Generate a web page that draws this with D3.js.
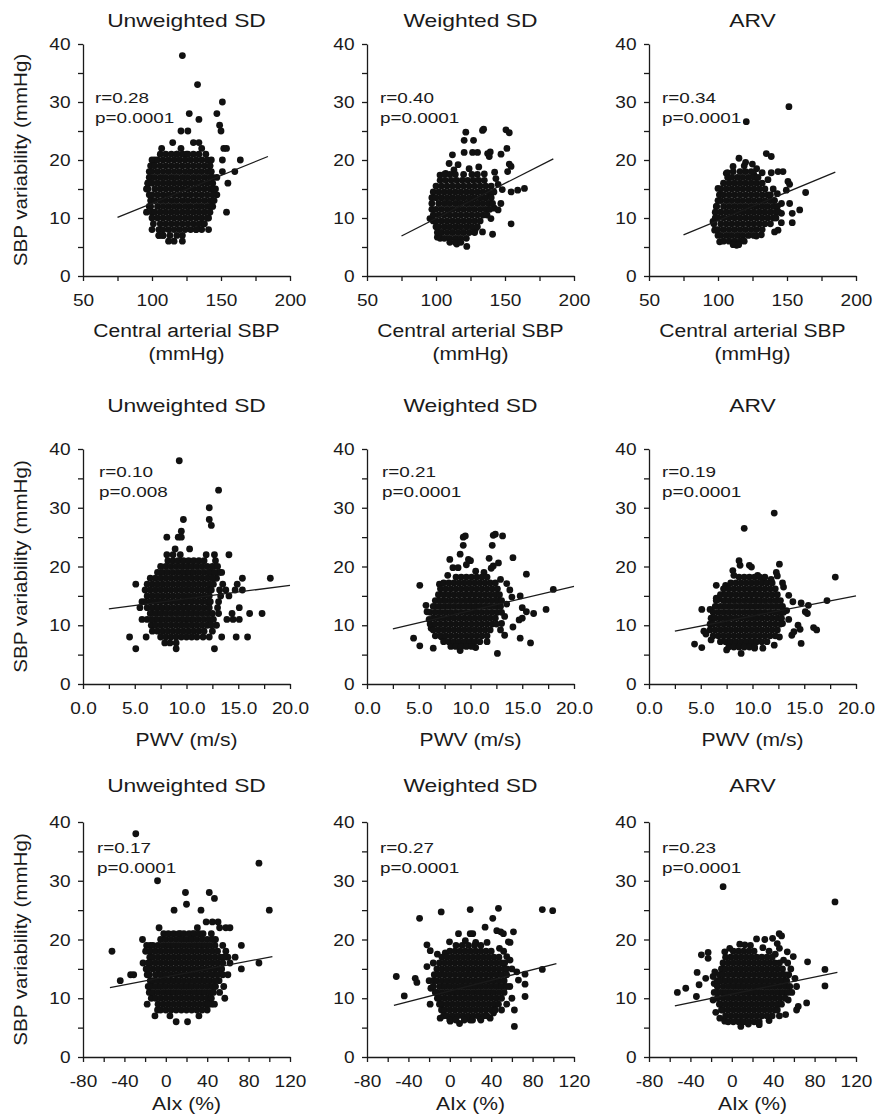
<!DOCTYPE html>
<html>
<head>
<meta charset="utf-8">
<script src="https://cdn.jsdelivr.net/npm/d3@7"></script>
<style>
  body { margin: 0; background: #fff; }
  svg { display: block; }
  text { font-family: "Liberation Sans", Arial, sans-serif; fill: #1a1a1a; }
</style>
</head>
<body>
<svg id="chart" width="875" height="1117"></svg>
<script>
// ---- labels / ticks
const titles = ["Unweighted SD", "Weighted SD", "ARV"];
const yTicks = [0, 5, 10, 15, 20, 25, 30, 35, 40];
const yLabels = ["0", "", "10", "", "20", "", "30", "", "40"];
const csbpTicks = [50, 75, 100, 125, 150, 175, 200];
const csbpLabels = ["50", "", "100", "", "150", "", "200"];
const pwvTicks = [0, 2.5, 5, 7.5, 10, 12.5, 15, 17.5, 20];
const pwvLabels = ["0.0", "", "5.0", "", "10.0", "", "15.0", "", "20.0"];
const aixTicks = [-80, -60, -40, -20, 0, 20, 40, 60, 80, 100, 120];
const aixLabels = ["-80", "", "-40", "", "0", "", "40", "", "80", "", "120"];
const rText = [["r=0.28", "r=0.40", "r=0.34"], ["r=0.10", "r=0.21", "r=0.19"], ["r=0.17", "r=0.27", "r=0.23"]];
const pText = [["p=0.0001", "p=0.0001", "p=0.0001"], ["p=0.008", "p=0.0001", "p=0.0001"], ["p=0.0001", "p=0.0001", "p=0.0001"]];

// ---- regression lines (two end points each)
const uwCsbpFit = [[75, 10.1], [184, 20.6]];
const wCsbpFit = [[75, 6.9], [185, 20.2]];
const arvCsbpFit = [[75, 7.1], [185, 17.9]];
const uwPwvFit = [[2.5, 12.8], [20, 16.8]];
const wPwvFit = [[2.5, 9.4], [20, 16.6]];
const arvPwvFit = [[2.5, 9.0], [20, 15.0]];
const uwAixFit = [[-54, 11.8], [103, 17.1]];
const wAixFit = [[-54, 8.8], [103, 15.9]];
const arvAixFit = [[-55, 8.7], [102, 14.4]];

// ---- points. "Core" = dense cloud, one row per y value: [y, [x, x, ...]]
//      "Out" = scattered points [x, y]
const uwCsbpCore = [
  [21, [106, 110, 114, 118, 122, 126, 130, 134]],
  [20, [100, 104, 108, 112, 116, 120, 124, 128, 132, 136, 140]],
  [19, [99, 102, 106, 110, 114, 118, 122, 126, 130, 134, 138, 142]],
  [18, [98, 100, 104, 108, 112, 116, 120, 124, 128, 132, 136, 140, 143]],
  [17, [98, 102, 106, 110, 114, 118, 122, 126, 130, 134, 138, 142]],
  [16, [97, 100, 104, 108, 112, 116, 120, 124, 128, 132, 136, 140, 144]],
  [15, [97, 102, 106, 110, 114, 118, 122, 126, 130, 134, 138, 142, 145]],
  [14, [98, 100, 104, 108, 112, 116, 120, 124, 128, 132, 136, 140, 144]],
  [13, [99, 102, 106, 110, 114, 118, 122, 126, 130, 134, 138, 142, 145]],
  [12, [99, 104, 108, 112, 116, 120, 124, 128, 132, 136, 140, 143]],
  [11, [100, 102, 106, 110, 114, 118, 122, 126, 130, 134, 138, 142]],
  [10, [100, 104, 108, 112, 116, 120, 124, 128, 132, 136, 140]],
  [9, [101, 106, 110, 114, 118, 122, 126, 130, 134, 138]],
  [8, [100, 105, 108, 112, 116, 120, 124, 128, 132]],
  [7, [105, 108, 113, 118, 122]],
  [6, [112, 116, 122]]
];
const uwCsbpOut = [[122, 38], [133, 33], [151, 30], [127, 28], [134, 27], [147, 28], [149, 26], [150, 25], [121, 25],
  [126, 25], [151, 20], [152, 22], [154, 22], [164, 20], [160, 18], [155, 16], [154, 11], [151, 18], [147, 17], [96, 11],
  [97, 16], [105, 7], [108, 7], [141, 8], [107, 22], [115, 23], [130, 23], [134, 23], [136, 22], [121, 22], [139, 21],
  [102, 20], [142, 19], [144, 17], [146, 15], [147, 14], [144, 12], [141, 10], [136, 8], [96, 15], [98, 12], [118, 21],
  [143, 20], [125, 21], [132, 8], [137, 9]];

const wCsbpCore = [
  [17.5, [106, 110, 114, 120, 126, 130]],
  [16.5, [103, 107, 111, 115, 119, 123, 127, 131, 135]],
  [15.5, [100, 104, 108, 112, 116, 120, 124, 128, 132, 136, 140]],
  [14.5, [98, 102, 106, 110, 114, 118, 122, 126, 130, 134, 138, 142]],
  [13.5, [97, 100, 104, 108, 112, 116, 120, 124, 128, 132, 136, 140]],
  [12.5, [97, 102, 106, 110, 114, 118, 122, 126, 130, 134, 138, 141]],
  [11.5, [97, 100, 104, 108, 112, 116, 120, 124, 128, 132, 136, 139]],
  [10.5, [98, 102, 106, 110, 114, 118, 122, 126, 130, 134, 137]],
  [9.5, [98, 100, 104, 108, 112, 116, 120, 124, 128, 132]],
  [8.5, [100, 102, 106, 110, 114, 118, 122, 126, 130]],
  [7.5, [101, 104, 108, 112, 116, 120, 124, 128]],
  [6.5, [103, 106, 110, 114, 118, 122]],
  [5.8, [110, 114, 118]]
];
const wCsbpOut = [[121.6, 24.8], [127.2, 23.4], [120.4, 23.4], [133.7, 25.1], [134.5, 25.3], [150.7, 25.2], [153.1, 24.7],
  [151.4, 22.0], [147.1, 21.0], [153.1, 19.3], [154.4, 18.9], [151.9, 18.0], [159.2, 14.8], [164.1, 15.1], [154.4, 14.5],
  [154.4, 9.0], [141, 7.2], [133.7, 7.6], [122.3, 5.1], [111.9, 20.9], [120.4, 21.3], [126.5, 21.3], [130.1, 21.3],
  [137.4, 21.1], [139.3, 21.4], [138.6, 20.6], [109.5, 19.4], [102.9, 17.4], [107, 17.7], [95.6, 9.9], [101, 6.7],
  [142.2, 11.7], [145, 11.4], [147, 12.5], [143.4, 16.8], [139.3, 14.0], [139.8, 9.9], [116, 19.2], [124, 18.5],
  [131, 18.8], [135, 17.6], [145, 15.8], [148, 14.9], [113, 18.3], [142.5, 17.9], [128.5, 8.0], [115, 5.5]];

const arvCsbpCore = [
  [18, [111, 116, 120, 124]],
  [17, [107, 110, 114, 118, 122, 126, 129]],
  [16, [104, 108, 112, 116, 120, 124, 128, 132]],
  [15, [102, 106, 110, 114, 118, 122, 126, 130, 134]],
  [14, [101, 104, 108, 112, 116, 120, 124, 128, 132, 136, 138]],
  [13, [100, 102, 106, 110, 114, 118, 122, 126, 130, 134, 138, 141]],
  [12, [99, 104, 108, 112, 116, 120, 124, 128, 132, 136, 140, 143]],
  [11, [98, 102, 106, 110, 114, 118, 122, 126, 130, 134, 138, 142, 144]],
  [10, [98, 100, 104, 108, 112, 116, 120, 124, 128, 132, 136, 140, 142]],
  [9, [97, 102, 106, 110, 114, 118, 122, 126, 130, 134, 138]],
  [8, [98, 100, 104, 108, 112, 116, 120, 124, 128, 132]],
  [7, [100, 102, 106, 110, 114, 118, 122, 126]],
  [6, [104, 108, 112, 116, 119]],
  [5.4, [111, 115]]
];
const arvCsbpOut = [[151.4, 29.2], [120.5, 26.6], [135, 21.1], [138.6, 20.6], [115.2, 20.3], [124.9, 19.3], [132, 17.8],
  [138.6, 17.8], [143.5, 18], [147.1, 18], [136.2, 16.6], [150.7, 16.3], [151.9, 15.8], [149.5, 14.8], [163.5, 14.4],
  [151.9, 12.5], [159.2, 11.4], [153.8, 10.8], [153.8, 9.2], [145.9, 9.2], [143.5, 7.9], [141, 7.6], [131.4, 7.1],
  [127.8, 6.9], [101.2, 5.9], [113.5, 5.3], [97.6, 7.9], [96.4, 9.4], [98.8, 12], [100, 15.1], [106, 17.7],
  [106.8, 17.8], [110.9, 18.9], [128, 18.5], [119, 19], [140, 15], [143, 14.2], [146, 12.5], [146, 10.8],
  [120, 19.6], [126, 17.5]];

const uwPwvCore = [
  [21, [8.2, 8.7, 9.2, 9.7, 10.2, 10.7, 11.2, 11.7]],
  [20, [7.5, 8.0, 8.5, 9.0, 9.5, 10.0, 10.5, 11.0, 11.5, 12.0, 12.5, 13.0]],
  [19, [7.2, 7.7, 8.2, 8.7, 9.2, 9.7, 10.2, 10.7, 11.2, 11.7, 12.2, 12.7]],
  [18, [6.5, 7.0, 7.5, 8.0, 8.5, 9.0, 9.5, 10.0, 10.5, 11.0, 11.5, 12.0, 12.5]],
  [17, [6.2, 6.7, 7.2, 7.7, 8.2, 8.7, 9.2, 9.7, 10.2, 10.7, 11.2, 11.7, 12.2, 12.6]],
  [16, [6.5, 7.0, 7.5, 8.0, 8.5, 9.0, 9.5, 10.0, 10.5, 11.0, 11.5, 12.0, 12.4]],
  [15, [6.2, 6.7, 7.2, 7.7, 8.2, 8.7, 9.2, 9.7, 10.2, 10.7, 11.2, 11.7, 12.2]],
  [14, [6.0, 6.5, 7.0, 7.5, 8.0, 8.5, 9.0, 9.5, 10.0, 10.5, 11.0, 11.5, 12.0, 12.3]],
  [13, [6.2, 6.7, 7.2, 7.7, 8.2, 8.7, 9.2, 9.7, 10.2, 10.7, 11.2, 11.7, 12.2]],
  [12, [6.5, 7.0, 7.5, 8.0, 8.5, 9.0, 9.5, 10.0, 10.5, 11.0, 11.5, 12.0, 12.5]],
  [11, [6.2, 6.7, 7.2, 7.7, 8.2, 8.7, 9.2, 9.7, 10.2, 10.7, 11.2, 11.7, 12.2, 12.6]],
  [10, [7.0, 7.5, 8.0, 8.5, 9.0, 9.5, 10.0, 10.5, 11.0, 11.5, 12.0, 12.4]],
  [9, [7.2, 7.7, 8.2, 8.7, 9.2, 9.7, 10.2, 10.7, 11.2, 11.7]],
  [8, [7.5, 8.0, 8.5, 9.0, 9.5, 10.0, 10.5, 11.0]],
  [7, [7.9, 8.4, 9.0]],
  [6, [9.0]]
];
const uwPwvOut = [[9.3, 38], [13.1, 33], [12.2, 30], [12.2, 28], [12.4, 27], [9.7, 28], [9.5, 26], [8.1, 25], [9.2, 25],
  [9.5, 25], [10.3, 23], [14.1, 22], [12.7, 22], [11.9, 22], [8.1, 22], [8.7, 22], [9.4, 22], [8.9, 23], [13.4, 19],
  [13.8, 16], [14.1, 15], [14.9, 17], [15.4, 18], [14.7, 16], [15.4, 16], [18.1, 18], [15.1, 13], [14.4, 12], [16.1, 12],
  [17.3, 12], [13.9, 11], [14.5, 11], [15.1, 11], [13.4, 8], [14.8, 8], [15.9, 8], [12.2, 8], [12.7, 6], [5.1, 6],
  [4.5, 8], [6.1, 8], [5.1, 17], [5.5, 13], [5.7, 11], [6.0, 16], [5.7, 14], [13.2, 16], [13.1, 14], [13.2, 19],
  [13.5, 17], [12.9, 18], [12.3, 19], [12.8, 21], [13.3, 15], [13.0, 13], [13.1, 12], [12.9, 10], [12.5, 9], [11.6, 8],
  [6.6, 10], [6.7, 9]];

const wPwvCore = [
  [18.2, [8.6, 9.1, 9.6, 10.1, 10.6, 11.1, 11.6]],
  [17.2, [7.4, 7.9, 8.4, 8.9, 9.4, 9.9, 10.4, 10.9, 11.4, 11.9, 12.4]],
  [16.2, [7.1, 7.6, 8.1, 8.6, 9.1, 9.6, 10.1, 10.6, 11.1, 11.6, 12.1, 12.6]],
  [15.2, [6.9, 7.4, 7.9, 8.4, 8.9, 9.4, 9.9, 10.4, 10.9, 11.4, 11.9, 12.4, 12.8]],
  [14.2, [6.6, 7.1, 7.6, 8.1, 8.6, 9.1, 9.6, 10.1, 10.6, 11.1, 11.6, 12.1, 12.6, 13.0]],
  [13.2, [6.4, 6.9, 7.4, 7.9, 8.4, 8.9, 9.4, 9.9, 10.4, 10.9, 11.4, 11.9, 12.4, 12.9]],
  [12.2, [6.1, 6.6, 7.1, 7.6, 8.1, 8.6, 9.1, 9.6, 10.1, 10.6, 11.1, 11.6, 12.1, 12.6, 13.0]],
  [11.2, [6.4, 6.9, 7.4, 7.9, 8.4, 8.9, 9.4, 9.9, 10.4, 10.9, 11.4, 11.9, 12.4]],
  [10.2, [6.1, 6.6, 7.1, 7.6, 8.1, 8.6, 9.1, 9.6, 10.1, 10.6, 11.1, 11.6, 12.1, 12.5]],
  [9.2, [6.4, 6.9, 7.4, 7.9, 8.4, 8.9, 9.4, 9.9, 10.4, 10.9, 11.4, 11.9]],
  [8.2, [6.6, 7.1, 7.6, 8.1, 8.6, 9.1, 9.6, 10.1, 10.6, 11.1, 11.6]],
  [7.2, [7.4, 7.9, 8.4, 8.9, 9.4, 9.9, 10.4, 10.9]],
  [6.4, [8.1, 8.6, 9.1, 9.6, 10.1]]
];
const wPwvOut = [[5.1, 16.8], [4.5, 7.8], [5.1, 6.5], [6.4, 6.1], [5.8, 12.3], [5.7, 13.4], [9.3, 25.0], [9.5, 25.2],
  [9.3, 23.6], [9.0, 22.1], [8.0, 21.2], [9.8, 21.2], [10.0, 21.0], [8.3, 19.8], [8.8, 19.8], [7.8, 18.5], [12.2, 25.3],
  [12.4, 25.5], [13.1, 25.2], [12.1, 23.6], [11.8, 21.4], [12.7, 20.6], [12.0, 19.7], [12.2, 20.1], [14.1, 21.5],
  [15.4, 18.7], [14.8, 15.0], [13.5, 17.1], [13.8, 16.0], [14.0, 14.8], [15.0, 13.0], [15.4, 12.3], [16.1, 12.0],
  [17.3, 12.7], [18.0, 16.1], [14.7, 10.9], [15.0, 11.2], [14.1, 9.7], [14.8, 7.8], [15.8, 7.0], [12.6, 5.2],
  [13.3, 8.3], [12.9, 9.2], [9.0, 5.7], [10.5, 6.2], [8.4, 6.5], [6.0, 11.0], [6.2, 9.5], [13.3, 11.5], [13.5, 13.6],
  [12.9, 17.8], [10.5, 19.2], [11.3, 19.0], [9.6, 20.3], [7.0, 17.0], [7.2, 8.0], [13.0, 10.3], [11.6, 7.2]];

const arvPwvCore = [
  [18.2, [8.7, 9.2, 9.7, 10.2, 10.7, 11.2]],
  [17.2, [7.9, 8.4, 8.9, 9.4, 9.9, 10.4, 10.9, 11.4, 11.9]],
  [16.2, [7.2, 7.7, 8.2, 8.7, 9.2, 9.7, 10.2, 10.7, 11.2, 11.7, 12.2]],
  [15.2, [6.9, 7.4, 7.9, 8.4, 8.9, 9.4, 9.9, 10.4, 10.9, 11.4, 11.9, 12.4]],
  [14.2, [6.5, 7.2, 7.7, 8.2, 8.7, 9.2, 9.7, 10.2, 10.7, 11.2, 11.7, 12.2, 12.7]],
  [13.2, [6.4, 6.9, 7.4, 7.9, 8.4, 8.9, 9.4, 9.9, 10.4, 10.9, 11.4, 11.9, 12.4, 12.9]],
  [12.2, [6.2, 6.7, 7.2, 7.7, 8.2, 8.7, 9.2, 9.7, 10.2, 10.7, 11.2, 11.7, 12.2, 12.7, 13.0]],
  [11.2, [6.0, 6.4, 6.9, 7.4, 7.9, 8.4, 8.9, 9.4, 9.9, 10.4, 10.9, 11.4, 11.9, 12.4, 12.8]],
  [10.2, [5.9, 6.2, 6.7, 7.2, 7.7, 8.2, 8.7, 9.2, 9.7, 10.2, 10.7, 11.2, 11.7, 12.2, 12.7]],
  [9.2, [5.9, 6.4, 6.9, 7.4, 7.9, 8.4, 8.9, 9.4, 9.9, 10.4, 10.9, 11.4, 11.9, 12.4]],
  [8.2, [6.2, 6.7, 7.2, 7.7, 8.2, 8.7, 9.2, 9.7, 10.2, 10.7, 11.2, 11.7, 12.2]],
  [7.2, [6.9, 7.4, 7.9, 8.4, 8.9, 9.4, 9.9, 10.4, 10.9, 11.4]],
  [6.3, [7.7, 8.2, 8.7, 9.2, 9.7, 10.2]]
];
const arvPwvOut = [[9.2, 26.5], [12.1, 29.1], [8.7, 21.0], [8.8, 20.2], [9.7, 20.2], [9.9, 19.9], [12.6, 20.4], [12.3, 19.0],
  [12.4, 18.4], [11.0, 17.8], [8.1, 19.3], [8.2, 18.5], [6.5, 16.8], [6.5, 14.6], [6.7, 14.4], [5.1, 12.7], [5.9, 12.7],
  [4.4, 6.8], [5.1, 6.2], [7.5, 5.8], [8.9, 5.2], [10.2, 6.1], [11.0, 6.1], [12.1, 6.6], [14.7, 6.9], [13.0, 16.5],
  [13.5, 15.1], [13.9, 14.0], [14.7, 13.8], [15.4, 13.4], [15.1, 12.3], [15.3, 12.0], [17.2, 14.2], [18.0, 18.2],
  [14.4, 10.0], [14.6, 9.3], [15.9, 9.6], [16.2, 9.2], [13.8, 8.3], [14.0, 8.9], [12.9, 10.3], [12.6, 8.0], [5.3, 9.0],
  [5.5, 8.5], [6.0, 7.5], [13.3, 12.5], [13.5, 11.0], [12.9, 17.2], [11.8, 17.8], [10.5, 18.5], [7.4, 16.8]];

const uwAixCore = [
  [21, [2.5, 7.5, 12.5, 17.5, 22.5, 27.5, 32.5]],
  [20, [-5, 0, 5, 10, 15, 20, 25, 30, 35, 40, 45]],
  [19, [-12.5, -7.5, -2.5, 2.5, 7.5, 12.5, 17.5, 22.5, 27.5, 32.5, 37.5, 42.5, 47.5]],
  [18, [-15, -10, -5, 0, 5, 10, 15, 20, 25, 30, 35, 40, 45, 50]],
  [17, [-15.5, -12.5, -7.5, -2.5, 2.5, 7.5, 12.5, 17.5, 22.5, 27.5, 32.5, 37.5, 42.5, 47.5, 52.5, 56]],
  [16, [-17, -15, -10, -5, 0, 5, 10, 15, 20, 25, 30, 35, 40, 45, 50, 55]],
  [15, [-17, -12.5, -7.5, -2.5, 2.5, 7.5, 12.5, 17.5, 22.5, 27.5, 32.5, 37.5, 42.5, 47.5, 52.5]],
  [14, [-16, -10, -5, 0, 5, 10, 15, 20, 25, 30, 35, 40, 45, 50]],
  [13, [-15, -12.5, -7.5, -2.5, 2.5, 7.5, 12.5, 17.5, 22.5, 27.5, 32.5, 37.5, 42.5, 47.5]],
  [12, [-15, -10, -5, 0, 5, 10, 15, 20, 25, 30, 35, 40, 45, 48]],
  [11, [-12.5, -7.5, -2.5, 2.5, 7.5, 12.5, 17.5, 22.5, 27.5, 32.5, 37.5, 42.5, 46]],
  [10, [-10, -5, 0, 5, 10, 15, 20, 25, 30, 35, 40, 44]],
  [9, [-7.5, -2.5, 2.5, 7.5, 12.5, 17.5, 22.5, 27.5, 32.5, 37.5, 41]],
  [8, [-5, 0, 5, 10, 15, 20, 25, 30, 35]]
];
const uwAixOut = [[-29, 38], [-8, 30], [90, 33], [100, 25], [19, 28], [20, 26], [42, 28], [47, 27], [8, 25], [34, 25],
  [-6.5, 22], [30.5, 22], [39, 23], [45, 23], [50.5, 23], [52, 22], [58, 22], [62, 22], [-52, 18], [-44, 13], [-34, 14],
  [-31, 14], [-22.5, 20], [-18.5, 19], [-19.5, 18], [-22, 16], [73, 19], [67, 17], [62, 16], [90, 16], [73, 15], [60, 14],
  [51.5, 13], [56, 12], [57, 10], [44, 9], [32, 7], [21, 6], [10, 6], [-10.5, 7], [4, 7], [-14, 10], [-18, 9], [-18, 14],
  [-19, 15], [-17, 12], [-16, 11], [-8, 8], [40, 8], [26, 21], [36, 21], [44, 21], [48, 20], [55, 19], [58, 18],
  [60, 17], [54, 15], [55, 14], [52, 11], [47, 9], [-15, 19], [-2, 21], [14, 21]];

const wAixCore = [
  [19, [6, 12, 18, 24, 30]],
  [18, [0, 5, 10, 15, 20, 25, 30, 35, 40]],
  [17, [-7.5, -2.5, 2.5, 7.5, 12.5, 17.5, 22.5, 27.5, 32.5, 37.5, 42.5, 47.5]],
  [16, [-10, -5, 0, 5, 10, 15, 20, 25, 30, 35, 40, 45, 50, 53]],
  [15, [-12.5, -7.5, -2.5, 2.5, 7.5, 12.5, 17.5, 22.5, 27.5, 32.5, 37.5, 42.5, 47.5, 52.5, 55]],
  [14, [-15, -10, -5, 0, 5, 10, 15, 20, 25, 30, 35, 40, 45, 50, 55]],
  [13, [-16, -12.5, -7.5, -2.5, 2.5, 7.5, 12.5, 17.5, 22.5, 27.5, 32.5, 37.5, 42.5, 47.5, 52.5]],
  [12, [-16, -10, -5, 0, 5, 10, 15, 20, 25, 30, 35, 40, 45, 50, 55]],
  [11, [-14, -12.5, -7.5, -2.5, 2.5, 7.5, 12.5, 17.5, 22.5, 27.5, 32.5, 37.5, 42.5, 47.5, 52.5]],
  [10, [-12, -10, -5, 0, 5, 10, 15, 20, 25, 30, 35, 40, 45, 50]],
  [9, [-10, -7.5, -2.5, 2.5, 7.5, 12.5, 17.5, 22.5, 27.5, 32.5, 37.5, 42.5, 47]],
  [8, [-8, -5, 0, 5, 10, 15, 20, 25, 30, 35, 40, 44]],
  [7, [-6, -2.5, 2.5, 7.5, 12.5, 17.5, 22.5, 27.5, 32.5, 36]],
  [6.3, [0, 6, 14, 22, 30]]
];
const wAixOut = [[-51.7, 13.7], [-44, 10.4], [-33.4, 13.4], [-31.8, 12.7], [-29.2, 23.6], [-8.3, 24.7], [19.7, 25.1],
  [47, 25.3], [41.5, 23.6], [89.4, 25.1], [99.4, 24.9], [89.4, 14.9], [72.7, 14.1], [72.7, 12.4], [72.7, 10.3],
  [62.4, 8.0], [62.4, 5.2], [8.4, 21.0], [19.7, 21.0], [22.2, 21.0], [34.1, 22.1], [45.4, 21.5], [49.2, 21.3],
  [51.8, 21.0], [61.5, 21.3], [-22.1, 19.1], [-18.9, 18.1], [-22.1, 15.4], [-18.3, 11.7], [-0.3, 19.6], [-4.4, 17.7],
  [56.6, 19.6], [58.2, 19.5], [64.7, 14.5], [66.3, 13.1], [55, 17.1], [58.2, 16.5], [39, 6.6], [42.2, 7.5], [9.4, 5.7],
  [0.4, 6.1], [-9.3, 6.6], [19.7, 6.3], [29.3, 6.6], [-19, 9], [-20, 13], [58, 12], [60, 10], [55, 9], [50, 8],
  [48, 18.5], [52, 18], [36, 19.5], [-12, 17.5], [-16, 16], [60, 15], [25, 19.5], [15, 19.8]];

const arvAixCore = [
  [18, [1.5, 6.5, 11.5, 16.5, 21.5]],
  [17, [-6, -1, 4, 9, 14, 19, 24, 29, 34, 39]],
  [16, [-8.5, -3.5, 1.5, 6.5, 11.5, 16.5, 21.5, 26.5, 31.5, 36.5, 41.5, 46]],
  [15, [-10, -6, -1, 4, 9, 14, 19, 24, 29, 34, 39, 44, 49]],
  [14, [-12, -8.5, -3.5, 1.5, 6.5, 11.5, 16.5, 21.5, 26.5, 31.5, 36.5, 41.5, 46.5, 51]],
  [13, [-14, -11, -6, -1, 4, 9, 14, 19, 24, 29, 34, 39, 44, 49, 53]],
  [12, [-14, -8.5, -3.5, 1.5, 6.5, 11.5, 16.5, 21.5, 26.5, 31.5, 36.5, 41.5, 46.5, 51.5, 56]],
  [11, [-14, -11, -6, -1, 4, 9, 14, 19, 24, 29, 34, 39, 44, 49, 54]],
  [10, [-14, -8.5, -3.5, 1.5, 6.5, 11.5, 16.5, 21.5, 26.5, 31.5, 36.5, 41.5, 46.5, 51.5]],
  [9, [-12, -11, -6, -1, 4, 9, 14, 19, 24, 29, 34, 39, 44, 48]],
  [8, [-10, -8.5, -3.5, 1.5, 6.5, 11.5, 16.5, 21.5, 26.5, 31.5, 36.5, 41.5, 44]],
  [7, [-6, -1, 4, 9, 14, 19, 24, 29, 34, 39]],
  [6, [-3.5, 1.5, 6.5, 11.5, 16.5, 21.5, 26.5]]
];
const arvAixOut = [[-8.4, 29], [99.7, 26.4], [-52.6, 11.0], [-44.5, 11.7], [-34.2, 10.3], [-33.5, 14.4], [-31.6, 12.3],
  [-29.4, 17.4], [-22.9, 17.8], [-22.9, 16.8], [-25.2, 13.4], [-18.1, 13.7], [-16.4, 14.5], [-6.8, 17.9], [7.7, 19.2],
  [12.6, 19.1], [23.9, 20.1], [31.9, 20.0], [39.4, 20.2], [45.8, 21], [48.1, 20.6], [43.9, 19.3], [53.6, 17.9],
  [59.4, 17.1], [73.2, 16.2], [90, 14.9], [90, 12.1], [72.3, 9.2], [62.6, 8.0], [64.2, 8.6], [61, 13.4], [62.6, 12.0],
  [54.5, 9.7], [8.7, 5.2], [26.5, 5.5], [-11.6, 6.6], [-6.8, 6.1], [-15.5, 7.6], [-18.1, 9.7], [-17, 11], [-17, 12.5],
  [57, 15], [55, 14], [58, 11], [52, 7.2], [46, 7], [36, 6.2], [16, 5.6], [-2, 18.5], [18, 19], [30, 18.6], [36, 18],
  [42, 17.5], [50, 16.5], [54, 16], [46, 18.5]];

// ---- layout
const colX = [83, 367, 649];
const plotW = 207;
const rowTop = [44, 449, 822];
const rowBot = [276, 684, 1057];
const titleY = [27, 412, 792];
const statY = [103, 477, 853];
const statDX = [[12, 13, 13], [16, 15, 13], [14, 13, 13]];
const xTitles = [["Central arterial SBP", "(mmHg)"], ["PWV (m/s)"], ["AIx (%)"]];
const xTitleY = [[337, 360], [746], [1110]];
const xDomains = [[50, 200], [0, 20], [-80, 120]];
const xTickSets = [[csbpTicks, csbpLabels], [pwvTicks, pwvLabels], [aixTicks, aixLabels]];

const cores = [[uwCsbpCore, wCsbpCore, arvCsbpCore], [uwPwvCore, wPwvCore, arvPwvCore], [uwAixCore, wAixCore, arvAixCore]];
const outs = [[uwCsbpOut, wCsbpOut, arvCsbpOut], [uwPwvOut, wPwvOut, arvPwvOut], [uwAixOut, wAixOut, arvAixOut]];
const fits = [[uwCsbpFit, wCsbpFit, arvCsbpFit], [uwPwvFit, wPwvFit, arvPwvFit], [uwAixFit, wAixFit, arvAixFit]];

const ink = "#1a1a1a";
const svg = d3.select("#chart");

// text is drawn a bit wider than the font to match the original figure
function label(g, x, y, str, size, sx, anchor, rot) {
    return g.append("text")
        .attr("transform", `translate(${x},${y})` + (rot ? ` rotate(${rot})` : "") + ` scale(${sx},1)`)
        .attr("text-anchor", anchor)
        .style("font-size", size + "px")
        .text(str);
}

function styleAxis(a) {
    a.attr("font-size", null).attr("font-family", null);
    a.select(".domain").attr("stroke", ink).attr("stroke-width", 1.3);
    a.selectAll(".tick line").attr("stroke", ink).attr("stroke-width", 1.3);
    a.selectAll(".tick text").style("font-size", "16px").attr("fill", ink);
}

for (let r = 0; r < 3; r++) {
    for (let c = 0; c < 3; c++) {
        const x0 = colX[c];
        const x = d3.scaleLinear().domain(xDomains[r]).range([x0, x0 + plotW]);
        const y = d3.scaleLinear().domain([0, 40]).range([rowBot[r], rowTop[r]]);
        const g = svg.append("g");

        // points
        const pts = outs[r][c].concat(cores[r][c].flatMap(([yy, xs]) => xs.map(v => [v, yy])));
        g.append("g").selectAll("circle").data(pts).join("circle")
            .attr("cx", d => x(d[0]))
            .attr("cy", d => y(d[1]))
            .attr("r", 3.4)
            .attr("fill", "#111");

        // regression line
        const f = fits[r][c];
        g.append("line")
            .attr("x1", x(f[0][0])).attr("y1", y(f[0][1]))
            .attr("x2", x(f[1][0])).attr("y2", y(f[1][1]))
            .attr("stroke", ink).attr("stroke-width", 1.3);

        // axes
        const ya = g.append("g").attr("transform", `translate(${x0},0)`)
            .call(d3.axisLeft(y).tickValues(yTicks).tickFormat((d, i) => yLabels[i]).tickSize(5).tickSizeOuter(0));
        styleAxis(ya);
        ya.selectAll(".tick text").attr("x", -12.5 / 1.19).attr("dy", 0).attr("y", 5.5)
            .attr("transform", "scale(1.19,1)");

        const [tv, tl] = xTickSets[r];
        const xa = g.append("g").attr("transform", `translate(0,${rowBot[r]})`)
            .call(d3.axisBottom(x).tickValues(tv).tickFormat((d, i) => tl[i]).tickSize(5).tickSizeOuter(0));
        styleAxis(xa);
        xa.selectAll(".tick text").attr("y", 30).attr("dy", 0).attr("transform", "scale(1.19,1)");

        // texts
        label(g, x0 + plotW / 2, titleY[r], titles[c], 18, 1.27, "middle");
        label(g, x0 + statDX[r][c], statY[r], rText[r][c], 15, 1.26, "start");
        label(g, x0 + statDX[r][c], statY[r] + 20, pText[r][c], 15, 1.26, "start");
        xTitles[r].forEach((t, k) => label(g, x0 + plotW / 2, xTitleY[r][k], t, 19, 1.11, "middle"));
        if (c === 0) {
            label(g, 27, (rowTop[r] + rowBot[r]) / 2, "SBP variability (mmHg)", 19, 1.085, "middle", -90);
        }
    }
}
</script>
</body>
</html>
